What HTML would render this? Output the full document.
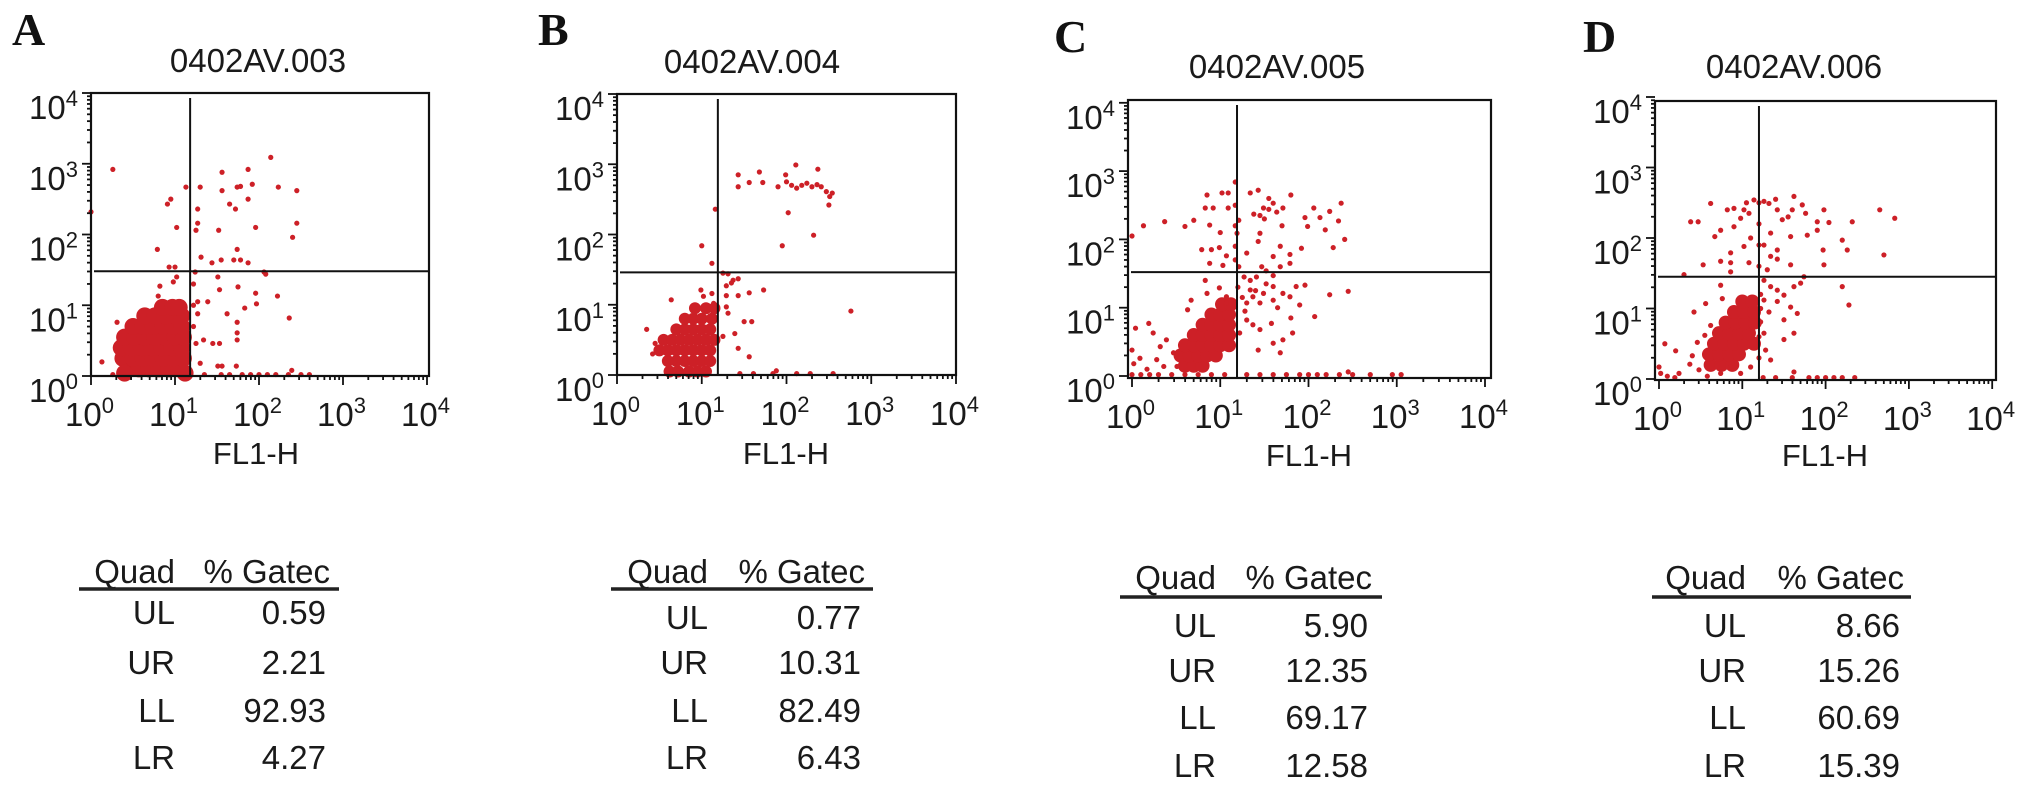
<!DOCTYPE html>
<html><head><meta charset="utf-8">
<style>
html,body{margin:0;padding:0;background:#fff;}
svg{display:block;}
text{font-family:"Liberation Sans",sans-serif;fill:#1a1a1a;}
.lbl{font-family:"Liberation Serif",serif;font-weight:bold;font-size:46px;fill:#111;}
</style></head>
<body>
<svg id="fig" width="2031" height="789" viewBox="0 0 2031 789" xmlns="http://www.w3.org/2000/svg"></svg>
<script>
// ---------- data (log10 exponents of FL1-H (x) and FL2-H (y)) ----------
const panelLetters = ["A","B","C","D"];
const sampleTitles = ["0402AV.003","0402AV.004","0402AV.005","0402AV.006"];
const quadNames = ["UL","UR","LL","LR"];
const quadA = ["0.59","2.21","92.93","4.27"];
const quadB = ["0.77","10.31","82.49","6.43"];
const quadC = ["5.90","12.35","69.17","12.58"];
const quadD = ["8.66","15.26","60.69","15.39"];
const gateX = [1.18,1.19,1.19,1.2];
const gateY = [1.48,1.46,1.52,1.45];
const tickExps = [0,1,2,3,4];

const ptsA = [[0.26,2.92],[2.14,3.09],[1.56,2.88],[1.87,2.92],[1.74,2.67],[1.78,2.68],[1.92,2.71],[2.23,2.67],[2.45,2.62],[1.30,2.67],[1.13,2.67],[1.56,2.62],[1.87,2.50],[1.65,2.43],[1.72,2.36],[0.91,2.43],[0.95,2.50],[1.27,2.36],[0.0,2.32],[1.27,2.16],[1.02,2.10],[1.25,2.06],[1.52,2.06],[1.96,2.10],[2.45,2.16],[2.40,1.96],[0.79,1.79],[1.74,1.79],[1.31,1.68],[1.44,1.60],[1.55,1.64],[1.70,1.64],[1.78,1.64],[1.87,1.60],[0.93,1.54],[1.0,1.54],[2.06,1.47],[2.08,1.44],[1.24,1.47],[1.51,1.40],[1.53,1.22],[1.75,1.26],[1.96,1.17],[2.22,1.13],[1.97,1.02],[0.82,1.27],[0.80,1.13],[1.27,1.05],[1.39,1.05],[1.83,0.96],[1.62,0.88],[1.27,0.88],[2.36,0.82],[1.74,0.76],[0.31,0.76],[1.74,0.61],[1.74,0.51],[1.34,0.51],[1.45,0.46],[1.53,0.46],[1.25,0.46],[0.13,0.20],[1.30,0.18],[1.51,0.14],[1.56,0.14],[1.73,0.14],[2.39,0.08],[1.35,0.02],[1.55,0.02],[1.65,0.02],[1.8,0.02],[1.9,0.02],[2.0,0.02],[2.1,0.02],[2.2,0.02],[2.35,0.02],[2.5,0.02],[2.6,0.02],[0.26,0.02],[1.02,1.40],[0.98,1.33],[1.22,1.30],[1.22,0.7],[1.22,1.0]];
const clusterA = [[0.45,0.1],[0.57,0.1],[0.69,0.1],[0.81,0.1],[0.93,0.1],[1.05,0.1],[0.38,0.25],[0.5,0.25],[0.62,0.25],[0.74,0.25],[0.86,0.25],[0.98,0.25],[1.1,0.25],[0.36,0.4],[0.48,0.4],[0.6,0.4],[0.72,0.4],[0.84,0.4],[0.96,0.4],[1.08,0.4],[0.4,0.55],[0.52,0.55],[0.64,0.55],[0.76,0.55],[0.88,0.55],[1.0,0.55],[1.1,0.55],[0.5,0.7],[0.62,0.7],[0.74,0.7],[0.86,0.7],[0.98,0.7],[1.08,0.7],[0.64,0.85],[0.76,0.85],[0.88,0.85],[1.0,0.85],[1.08,0.85],[0.85,0.97],[0.97,0.97],[1.05,0.97],[0.4,0.04],[1.12,0.04]];

const ptsB = [[1.43,2.85],[1.43,2.68],[1.56,2.74],[1.68,2.89],[1.72,2.74],[1.90,2.68],[1.99,2.85],[2.11,2.99],[2.37,2.93],[2.0,2.75],[2.06,2.70],[2.12,2.66],[2.18,2.70],[2.24,2.73],[2.30,2.68],[2.36,2.71],[2.41,2.68],[2.47,2.61],[2.51,2.54],[2.50,2.42],[2.54,2.59],[2.02,2.31],[2.32,1.99],[1.95,1.84],[1.16,2.36],[1.0,1.84],[1.12,1.59],[2.76,0.91],[1.25,1.45],[1.31,1.44],[1.37,1.35],[1.43,1.37],[1.29,1.27],[1.35,1.31],[1.29,1.13],[1.43,1.13],[1.56,1.17],[1.73,1.21],[1.29,0.97],[1.31,0.88],[1.50,0.76],[1.59,0.76],[1.39,0.59],[1.43,0.38],[1.56,0.26],[1.25,0.55],[1.45,0.02],[1.61,0.02],[1.84,0.02],[1.88,0.06],[2.12,0.02],[2.28,0.02],[2.55,0.02],[0.64,1.07],[0.35,0.65],[0.99,1.21],[1.02,1.12],[1.12,1.16],[1.14,1.02],[0.45,0.45],[0.42,0.3]];
const clusterB = [[0.62,0.05],[0.72,0.05],[0.85,0.05],[0.95,0.05],[1.05,0.05],[0.6,0.2],[0.7,0.2],[0.8,0.2],[0.9,0.2],[1.0,0.2],[1.1,0.2],[0.5,0.35],[0.6,0.35],[0.7,0.35],[0.8,0.35],[0.9,0.35],[1.0,0.35],[1.1,0.35],[0.55,0.5],[0.65,0.5],[0.75,0.5],[0.85,0.5],[0.95,0.5],[1.05,0.5],[1.15,0.5],[0.7,0.65],[0.8,0.65],[0.9,0.65],[1.0,0.65],[1.1,0.65],[0.8,0.8],[0.9,0.8],[1.0,0.8],[1.12,0.8],[0.92,0.95],[1.05,0.95],[1.15,0.95]];

const ptsC = [[1.17,2.84],[1.02,2.68],[0.85,2.65],[1.09,2.68],[1.34,2.68],[1.43,2.72],[1.60,2.53],[1.49,2.46],[1.55,2.44],[1.38,2.37],[1.45,2.35],[1.64,2.40],[1.80,2.65],[1.71,2.46],[1.96,2.32],[2.06,2.46],[2.13,2.32],[2.24,2.41],[2.37,2.53],[2.34,2.27],[2.19,2.14],[1.99,2.19],[2.41,2.0],[2.28,1.88],[1.92,1.87],[1.79,1.78],[1.68,1.90],[1.43,1.97],[1.45,2.09],[1.19,2.09],[1.21,2.28],[1.09,2.46],[0.92,2.46],[0.83,2.46],[0.88,2.21],[0.70,2.28],[0.60,2.19],[0.37,2.26],[0.13,2.20],[0.0,2.05],[0.79,1.85],[0.90,1.85],[0.99,1.88],[1.07,1.76],[0.88,1.65],[1.03,1.62],[1.21,1.60],[1.68,1.60],[1.79,1.65],[1.47,1.60],[1.27,1.45],[1.34,1.40],[1.41,1.45],[1.52,1.54],[1.60,1.47],[1.34,1.26],[1.37,1.16],[1.49,1.21],[1.60,1.31],[1.71,1.21],[1.30,1.07],[1.45,1.07],[1.60,1.11],[1.79,1.16],[1.90,1.04],[1.86,1.31],[1.96,1.33],[2.24,1.19],[2.45,1.24],[2.07,0.87],[1.82,0.63],[1.71,0.53],[1.60,0.48],[1.68,0.34],[1.43,0.38],[1.37,0.75],[1.45,0.68],[1.58,0.77],[1.30,0.82],[1.22,0.63],[0.99,1.29],[1.07,1.16],[1.07,1.07],[0.83,1.40],[0.85,1.21],[0.67,1.11],[0.63,0.97],[0.0,0.02],[0.1,0.02],[0.2,0.02],[0.3,0.02],[0.45,0.02],[0.6,0.02],[0.75,0.02],[0.9,0.02],[1.05,0.02],[1.3,0.02],[1.45,0.02],[1.6,0.02],[1.75,0.02],[1.9,0.02],[2.0,0.02],[2.1,0.02],[2.2,0.02],[2.35,0.02],[2.5,0.02],[2.7,0.02],[2.95,0.02],[3.05,0.02],[2.45,0.06],[0.04,0.70],[0.19,0.77],[0.0,0.38],[0.02,0.18],[0.09,0.26],[0.24,0.63],[0.32,0.43],[0.39,0.53],[0.47,0.34],[0.28,0.24],[0.51,0.14],[0.17,0.10],[0.36,0.14],[1.17,2.5],[1.17,2.2],[1.17,1.9],[1.17,1.7],[1.2,1.3],[1.25,1.15],[1.28,0.95],[1.55,2.6],[1.5,2.3],[1.7,2.2],[1.3,1.8],[1.0,2.1],[1.6,1.75],[1.52,1.35],[1.4,1.25],[1.65,1.0],[1.8,0.85]];
const clusterC = [[0.6,0.15],[0.7,0.15],[0.8,0.15],[0.55,0.3],[0.65,0.3],[0.75,0.3],[0.85,0.3],[0.95,0.3],[0.6,0.45],[0.7,0.45],[0.8,0.45],[0.9,0.45],[1.0,0.45],[1.1,0.45],[0.7,0.6],[0.8,0.6],[0.9,0.6],[1.0,0.6],[1.1,0.6],[0.8,0.75],[0.9,0.75],[1.0,0.75],[1.1,0.75],[0.9,0.9],[1.0,0.9],[1.1,0.9],[1.02,1.05],[1.12,1.05]];

const ptsD = [[0.62,2.49],[0.38,2.23],[0.47,2.23],[0.67,2.02],[0.74,2.11],[0.82,2.40],[0.90,2.42],[1.02,2.40],[1.08,2.35],[1.14,2.54],[1.26,2.52],[1.32,2.49],[1.42,2.40],[1.48,2.26],[1.62,2.59],[1.60,2.40],[1.72,2.47],[1.76,2.35],[1.98,2.40],[1.90,2.23],[2.04,2.22],[1.90,2.11],[1.78,2.04],[1.58,2.02],[1.34,2.07],[1.26,1.90],[1.02,1.88],[0.86,1.79],[0.86,1.65],[0.74,1.67],[0.53,1.62],[0.30,1.48],[0.86,1.52],[1.08,1.65],[1.42,1.70],[1.58,1.62],[1.98,1.62],[2.2,1.97],[2.26,1.83],[2.32,2.23],[2.65,2.40],[2.83,2.28],[2.70,1.76],[1.97,1.83],[1.42,1.83],[1.34,1.74],[0.90,2.16],[0.98,2.28],[1.26,1.40],[1.34,1.31],[1.42,1.26],[1.50,1.19],[1.62,1.31],[1.70,1.36],[1.74,1.45],[1.42,1.10],[1.58,1.02],[1.66,0.93],[1.50,0.84],[1.62,0.65],[1.50,0.56],[1.26,0.65],[1.28,0.41],[1.34,0.27],[2.2,1.31],[2.28,1.05],[1.26,1.12],[1.32,0.95],[1.22,0.81],[0.74,1.33],[0.76,1.14],[0.56,1.07],[0.42,0.95],[0.62,0.76],[0.55,0.62],[0.46,0.52],[0.40,0.33],[0.20,0.40],[0.07,0.50],[0.37,0.21],[0.48,0.13],[0.24,0.08],[0.0,0.17],[0.10,0.04],[0.02,0.08],[0.19,0.02],[0.58,0.04],[0.74,0.08],[0.86,0.17],[0.98,0.08],[1.1,0.17],[1.25,0.02],[1.4,0.02],[1.6,0.02],[1.8,0.02],[1.9,0.02],[2.0,0.02],[2.1,0.02],[2.2,0.02],[2.35,0.02],[1.62,0.10],[1.2,2.5],[1.2,2.2],[1.2,1.9],[1.2,1.6],[1.22,1.2],[1.22,1.0],[1.2,0.6],[1.2,0.3],[1.05,2.5],[1.4,2.55],[1.55,2.3],[1.1,2.0],[1.3,1.55]];
const clusterD = [[0.62,0.2],[0.75,0.2],[0.88,0.2],[0.6,0.35],[0.72,0.35],[0.84,0.35],[0.96,0.35],[0.66,0.5],[0.78,0.5],[0.9,0.5],[1.02,0.5],[1.14,0.5],[0.72,0.65],[0.84,0.65],[0.96,0.65],[1.08,0.65],[0.8,0.8],[0.92,0.8],[1.04,0.8],[1.15,0.8],[0.9,0.95],[1.02,0.95],[1.14,0.95],[1.0,1.1],[1.12,1.1]];

const scatterPts = [ptsA,ptsB,ptsC,ptsD];
const clusterPts = [clusterA,clusterB,clusterC,clusterD];
const quadVals = [quadA,quadB,quadC,quadD];

// ---------- layout ----------
const layout = [
 {box:[91,93,429,376], x0:91, xd:84, y0:376, yd:70.75, letter:[12,45], title:[258,72], xlab:[256,464], tbl:{line:[79,339,589], q:175, v:326, hy:572, rows:[612,662,710,757]}, cr:8.5},
 {box:[617,94,956,375], x0:617, xd:84.75, y0:375, yd:70.25, letter:[538,45], title:[752,73], xlab:[786,464], tbl:{line:[611,873,589], q:708, v:861, hy:572, rows:[617,662,710,757]}, cr:6},
 {box:[1128,100,1491,378], x0:1132, xd:88.25, y0:376, yd:68.3, letter:[1054,52], title:[1277,78], xlab:[1309,466], tbl:{line:[1120,1382,597], q:1216, v:1368, hy:578, rows:[625,670,717,765]}, cr:7},
 {box:[1655,101,1996,380], x0:1659, xd:83.3, y0:379, yd:70.5, letter:[1583,52], title:[1794,78], xlab:[1825,466], tbl:{line:[1652,1911,597], q:1746, v:1900, hy:578, rows:[625,670,717,765]}, cr:7}
];
const RED = "#cd2027";
const NS = "http://www.w3.org/2000/svg";
const svg = document.getElementById('fig');
function mk(tag, attrs, parent){
  const e = document.createElementNS(NS, tag);
  for (const k in attrs) e.setAttribute(k, attrs[k]);
  (parent||svg).appendChild(e);
  return e;
}
layout.forEach((L, i) => {
  const g = mk('g', {});
  
  
  const sx = e => L.x0 + e * L.xd;
  const sy = e => L.y0 - e * L.yd;
  const [bl, bt, br, bb] = L.box;

  const lt = mk('text', {x:L.letter[0], y:L.letter[1], class:'lbl'}, g);
  lt.textContent = panelLetters[i];
  
  

  const tt = mk('text', {x:L.title[0], y:L.title[1], 'text-anchor':'middle', 'font-size':33}, g);
  tt.textContent = sampleTitles[i];
  
  

  const dots = mk('g', {fill:RED}, g);
  
  
  clusterPts[i].forEach(p => {
    const c = mk('circle', {cx:sx(p[0]), cy:sy(p[1]), r:L.cr}, dots);
    
    
  });
  scatterPts[i].forEach(p => {
    const c = mk('circle', {cx:sx(p[0]), cy:sy(p[1]), r:2.6}, dots);
    
    
  });

  const fr = mk('rect', {x:bl, y:bt, width:br-bl, height:bb-bt, fill:'none', stroke:'#111', 'stroke-width':2.2}, g);
  
  
  const gv = mk('line', {x1:sx(gateX[i]), x2:sx(gateX[i]), y1:bt+5, y2:bb, stroke:'#111', 'stroke-width':2}, g);
  
  
  const gh = mk('line', {x1:bl+3, x2:br, y1:sy(gateY[i]), y2:sy(gateY[i]), stroke:'#111', 'stroke-width':2}, g);
  
  

  const tk = mk('g', {stroke:'#111', 'stroke-width':1.8}, g);
  
  
  for (let d = 0; d < 4; d++) {
    for (let m = 1; m < 10; m++) {
      const e = d + Math.log10(m);
      const len = m === 1 ? 9 : 4;
      mk('line', {x1:sx(e), x2:sx(e), y1:bb, y2:bb+len}, tk);
      mk('line', {x1:bl, x2:bl-len, y1:sy(e), y2:sy(e)}, tk);
    }
  }
  mk('line', {x1:sx(4), x2:sx(4), y1:bb, y2:bb+9}, tk);
  mk('line', {x1:bl, x2:bl-9, y1:sy(4), y2:sy(4)}, tk);

  tickExps.forEach(e => {
    const xl = mk('text', {x:sx(e)-26, y:bb+50, 'font-size':33}, g);
    xl.innerHTML = '10<tspan dy="-13" font-size="22">' + e + '</tspan>';
    
    
    const yl = mk('text', {x:bl-13, y:sy(e)+26, 'font-size':33, 'text-anchor':'end'}, g);
    yl.innerHTML = '10<tspan dy="-13" font-size="22">' + e + '</tspan>';
    
    
  });

  const xt = mk('text', {x:L.xlab[0], y:L.xlab[1], 'text-anchor':'middle', 'font-size':31}, g);
  xt.textContent = 'FL1-H';
  
  

  const T = L.tbl;
  const tg = mk('g', {'font-size':33}, g);
  
  
  const h1 = mk('text', {x:T.q, y:T.hy+11, 'text-anchor':'end'}, tg);
  h1.textContent = 'Quad';
  
  
  const h2 = mk('text', {x:T.v+4, y:T.hy+11, 'text-anchor':'end'}, tg);
  h2.textContent = '% Gatec';
  
  
  const ln = mk('line', {x1:T.line[0], x2:T.line[1], y1:T.line[2], y2:T.line[2], stroke:'#222', 'stroke-width':3.5}, tg);
  
  
  quadNames.forEach((q, r) => {
    const a = mk('text', {x:T.q, y:T.rows[r]+12, 'text-anchor':'end'}, tg);
    a.textContent = q;
    
    
    const b = mk('text', {x:T.v, y:T.rows[r]+12, 'text-anchor':'end'}, tg);
    b.textContent = quadVals[i][r];
    
    
  });
});
</script>
</body></html>
